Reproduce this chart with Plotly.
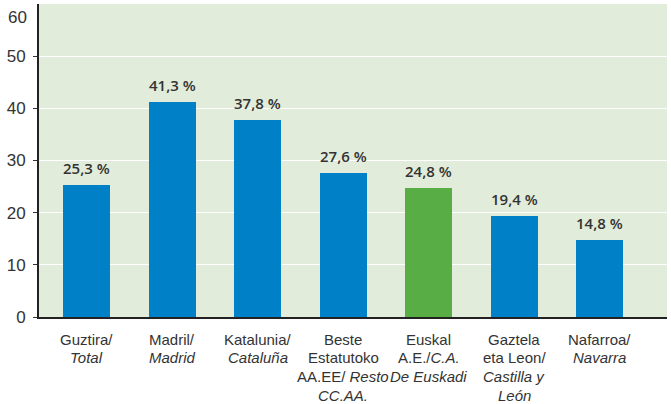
import plotly.graph_objects as go

# ---- data ----
category_labels = [
    "Guztira/<br><i>Total</i>",
    "Madril/<br><i>Madrid</i>",
    "Katalunia/<br><i>Cataluña</i>",
    "Beste<br>Estatutoko<br>AA.EE/ <i>Resto</i><br><i>CC.AA.</i>",
    "Euskal<br>A.E./<i>C.A.</i><br><i>De Euskadi</i>",
    "Gaztela<br>eta Leon/<br><i>Castilla y</i><br><i>León</i>",
    "Nafarroa/<br><i>Navarra</i>",
]
values = [25.3, 41.3, 37.8, 27.6, 24.8, 19.4, 14.8]
value_labels = ["25,3 %", "41,3 %", "37,8 %", "27,6 %", "24,8 %", "19,4 %", "14,8 %"]
highlight = [False, False, False, False, True, False, False]
y_ticks = [0, 10, 20, 30, 40, 50, 60]

BLUE = "#0080C6"
GREEN = "#58AD45"
BG = "#E1ECDA"
TXT = "#333333"
CAT_FONT = "Liberation Sans, Arial, sans-serif"

x = list(range(len(values)))
colors = [GREEN if h else BLUE for h in highlight]

fig = go.Figure()
fig.add_trace(go.Bar(
    x=x, y=values, width=0.55,
    marker=dict(color=colors, line=dict(width=0)),
    hoverinfo="skip",
))

annotations = []
# value labels above bars
for xi, v, lab in zip(x, values, value_labels):
    annotations.append(dict(
        x=xi, y=v, xref="x", yref="y", text=lab, showarrow=False,
        yanchor="bottom", yshift=5,
        font=dict(family="Open Sans, sans-serif", size=15, color=TXT, weight=600),
    ))

# category labels, one annotation per line (tight leading)
LINE = 18.7
for xi, lab in zip(x, category_labels):
    for k, line in enumerate(lab.split("<br>")):
        annotations.append(dict(
            x=xi, y=0, xref="x", yref="paper", text=line, showarrow=False,
            xanchor="center", yanchor="middle", yshift=-(22 + k * LINE),
            font=dict(family=CAT_FONT, size=15, color=TXT),
        ))

# top tick label (drawn slightly lower than its tick position)
annotations.append(dict(
    x=0, y=1, xref="paper", yref="paper", text=str(y_ticks[-1]), showarrow=False,
    xanchor="right", yanchor="middle", xshift=-10, yshift=-13,
    font=dict(family=CAT_FONT, size=17, color=TXT),
))

fig.update_layout(
    width=671, height=404,
    margin=dict(l=39, r=4, t=4, b=87),
    paper_bgcolor="white",
    plot_bgcolor=BG,
    showlegend=False,
    bargap=0,
    annotations=annotations,
    xaxis=dict(
        range=[-0.556, 6.789],
        showticklabels=False, showgrid=False, zeroline=False,
        showline=True, linecolor="#222222", linewidth=2,
        fixedrange=True,
    ),
    yaxis=dict(
        range=[0, 60],
        tickvals=y_ticks[:-1],
        ticktext=[str(t) for t in y_ticks[:-1]],
        ticks="outside", ticklen=4, tickcolor="#333333", tickwidth=1,
        tickfont=dict(family=CAT_FONT, size=17, color=TXT),
        ticklabelstandoff=4,
        showgrid=True, gridcolor="white", gridwidth=1,
        zeroline=False,
        showline=True, linecolor="#222222", linewidth=2,
        fixedrange=True,
    ),
)

fig.write_html(
    "out.html",
    config={"displayModeBar": False},
    post_script="document.body.style.margin='0';document.body.style.padding='0';",
)
